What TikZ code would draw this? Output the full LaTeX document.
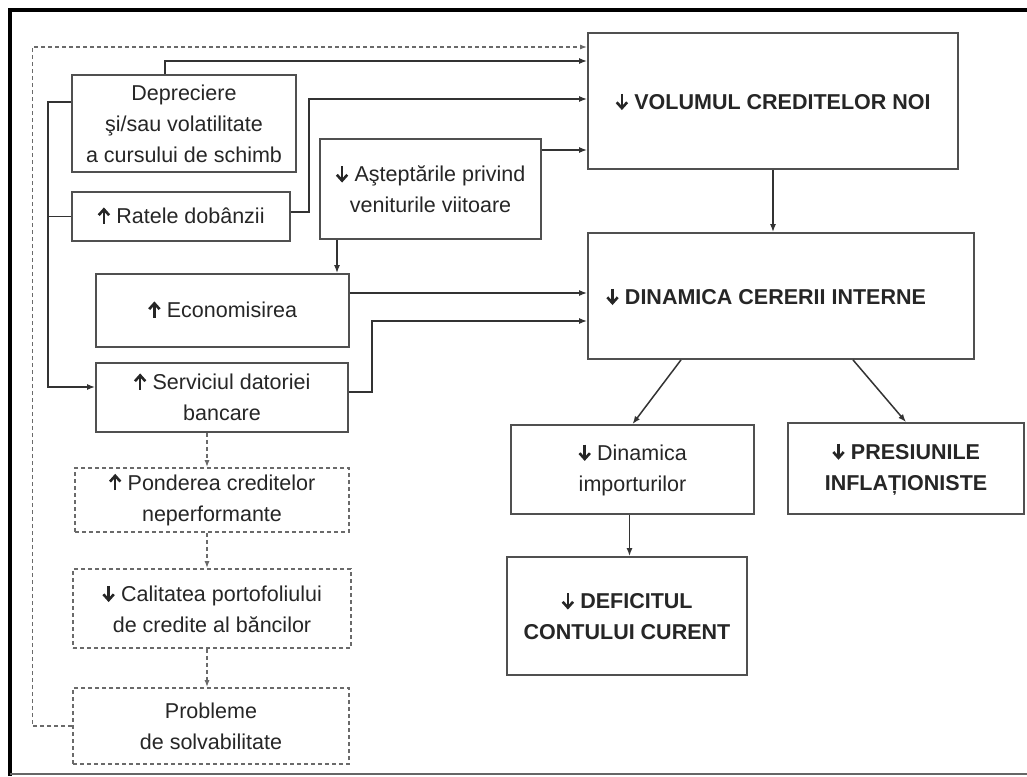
\documentclass[tikz,border=0pt]{standalone}
\usepackage{fontspec}
\setmainfont{Liberation Sans}
\usetikzlibrary{arrows.meta}
% heavy up/down trend arrows drawn inline
\newcommand{\arrdn}{\tikz[baseline=0pt,x=1pt,y=1pt]{%
  \draw[black!85, line width=2.6pt] (0,15.5) -- (0,2);
  \draw[black!85, line width=2.6pt, line join=miter] (-5.2,7) -- (0,1.2) -- (5.2,7);}}
\newcommand{\arrup}{\tikz[baseline=0pt,x=1pt,y=1pt]{%
  \draw[black!85, line width=2.6pt] (0,0) -- (0,13.5);
  \draw[black!85, line width=2.6pt, line join=miter] (-5.2,8.5) -- (0,14.3) -- (5.2,8.5);}}
\definecolor{boxc}{HTML}{505050}
\definecolor{linec}{HTML}{333333}
\definecolor{dashc}{HTML}{6A6A6A}
\tikzset{
  box/.style={draw=boxc, line width=1.8pt, align=center, inner sep=0pt,
    font=\fontsize{21.5}{31}\selectfont, text=black!85},
  hbox/.style={box, font=\fontsize{21.5}{31}\selectfont\bfseries},
  dbox/.style={box, draw=dashc, line width=1.6pt, dash pattern=on 4pt off 3pt},
  arr/.style={draw=linec, line width=1.5pt, -{Latex[length=8pt,width=6pt]}},
  plain/.style={draw=linec, line width=1.5pt},
  darr/.style={draw=dashc, line width=1.4pt, dash pattern=on 4pt off 3pt,
    -{Latex[length=7pt,width=5pt]}},
}
\begin{document}
\begin{tikzpicture}[x=1pt,y=-1pt]
\useasboundingbox (0,0) rectangle (1027,776);
\fill[white] (0,0) rectangle (1027,776);
% outer frame
\draw[line width=4pt, black] (10,776) -- (10,10) -- (1027,10);
\draw[line width=2pt, black!60] (10,774) -- (1027,774);

% left column
\node[box, minimum width=224pt, minimum height=97pt] (dep) at (184,123.5)
  {Depreciere\\şi/sau volatilitate\\a cursului de schimb};
\node[box, minimum width=218pt, minimum height=49pt] (rat) at (181,216.5)
  {\arrup{} Ratele dobânzii};
\node[box, minimum width=221pt, minimum height=100pt] (ast) at (430.5,189)
  {\arrdn{} Aşteptările privind\\veniturile viitoare};
\node[box, minimum width=253pt, minimum height=73pt] (eco) at (222.5,310.5)
  {\arrup{} Economisirea};
\node[box, minimum width=252pt, minimum height=69pt] (ser) at (222,397.5)
  {\arrup{} Serviciul datoriei\\bancare};
\node[dbox, minimum width=274pt, minimum height=64pt] (pon) at (212,500)
  {\arrup{} Ponderea creditelor\\neperformante};
\node[dbox, minimum width=278pt, minimum height=79pt] (cal) at (212,608.5)
  {\arrdn{} Calitatea portofoliului\\de credite al băncilor};
\node[dbox, minimum width=276pt, minimum height=76pt] (pro) at (211,726)
  {Probleme\\de solvabilitate};

% right column
\node[hbox, minimum width=370pt, minimum height=136pt] (vol) at (773,101)
  {\arrdn{} VOLUMUL CREDITELOR NOI};
\node[hbox, minimum width=386pt, minimum height=126pt] (din) at (781,296)
  {\arrdn{} DINAMICA CERERII INTERNE\hspace*{30pt}};
\node[box, minimum width=243pt, minimum height=89pt] (imp) at (632.5,469.5)
  {\arrdn{} Dinamica\\importurilor};
\node[hbox, minimum width=236pt, minimum height=91pt] (pre) at (906,468.5)
  {\arrdn{} PRESIUNILE\\INFLAȚIONISTE};
\node[hbox, minimum width=240pt, minimum height=118pt] (def) at (627,616)
  {\arrdn{} DEFICITUL\\CONTULUI CURENT};

% connectors into the credit volume
\draw[darr] (pro.west) -- ++(-40,0) |- ([yshift=54pt]vol.west);
\draw[arr] ([xshift=-19pt]dep.north) |- ([yshift=40pt]vol.west);
\draw[arr] ([yshift=4.5pt]rat.east) -- ++(18,0) |- ([yshift=2pt]vol.west);
\coordinate (a1) at ([yshift=39pt]ast.east);
\draw[arr] (a1) -- (a1 -| vol.west);
\draw[arr] (vol.south) -- (vol.south |- din.north);

% connectors into domestic demand
\coordinate (a2) at ([xshift=-93.5pt]ast.south);
\draw[arr] (a2) -- (a2 |- eco.north);
\coordinate (e1) at ([yshift=17.5pt]eco.east);
\draw[arr] (e1) -- (e1 -| din.west);
\draw[arr] ([yshift=5.5pt]ser.east) -- ++(23,0) |- ([yshift=-25pt]din.west);

% left-hand feed into debt service
\draw[arr] ([yshift=21.5pt]dep.west) -- ++(-23,0) |- ([yshift=10.5pt]ser.west);
\draw[plain] (rat.west) -- ++(-23,0);

% banking chain
\coordinate (s1) at ([xshift=-15pt]ser.south);
\draw[darr] (s1) -- (s1 |- pon.north);
\coordinate (p1) at ([xshift=-5pt]pon.south);
\draw[darr] (p1) -- (p1 |- cal.north);
\coordinate (c1) at ([xshift=-5pt]cal.south);
\draw[darr] (c1) -- (c1 |- pro.north);

% effects of lower demand
\draw[arr] ([xshift=-100pt]din.south) -- (imp.north);
\draw[arr] ([xshift=72pt]din.south) -- (pre.north);
\coordinate (i1) at ([xshift=-3pt]imp.south);
\draw[arr] (i1) -- (i1 |- def.north);
\end{tikzpicture}
\end{document}
